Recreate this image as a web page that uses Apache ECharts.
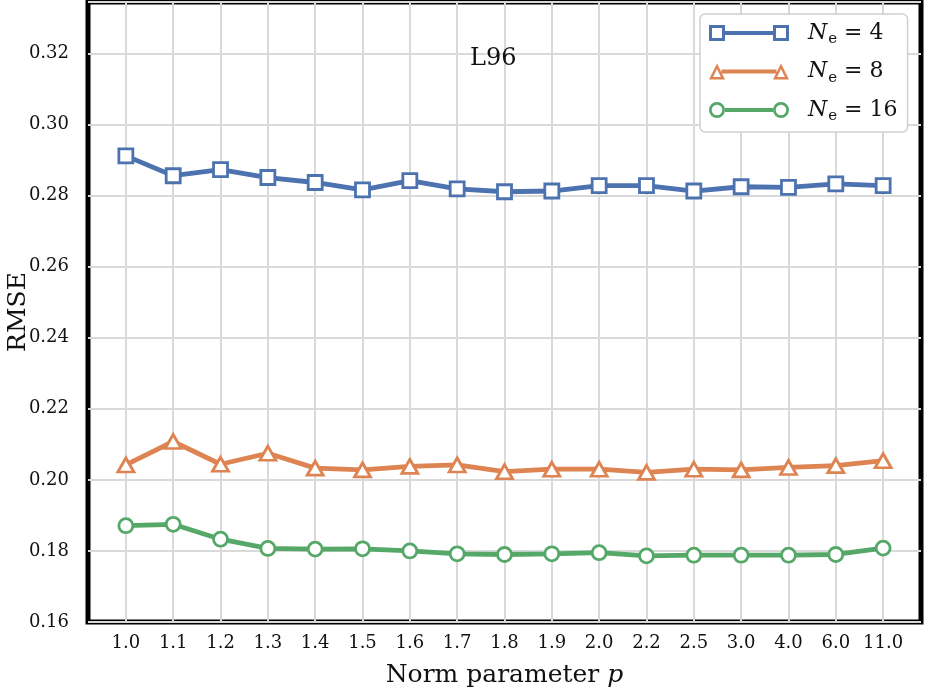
<!DOCTYPE html>
<html>
<head>
<meta charset="utf-8">
<script src="https://cdn.jsdelivr.net/npm/echarts@6/dist/echarts.min.js"></script>
<style>
  html, body { margin: 0; padding: 0; background: #fff; }
  #chart { width: 925px; height: 693px; }
</style>
</head>
<body>
<div id="chart"></div>
<script>
// norm parameter p (plotted at equal spacing)
var pLabels = ['1.0', '1.1', '1.2', '1.3', '1.4', '1.5', '1.6', '1.7', '1.8', '1.9', '2.0', '2.2', '2.5', '3.0', '4.0', '6.0', '11.0'];

// RMSE for each ensemble size
var rmseNe4 = [0.2912, 0.2856, 0.2873, 0.2851, 0.2837, 0.2816, 0.2842, 0.2819, 0.2811, 0.2813, 0.2828, 0.2828, 0.2813, 0.2825, 0.2823, 0.2833, 0.2828];
var rmseNe8 = [0.2042, 0.2108, 0.2044, 0.2075, 0.2033, 0.2028, 0.2038, 0.2042, 0.2023, 0.2030, 0.2030, 0.2021, 0.2030, 0.2028, 0.2035, 0.2040, 0.2054];
var rmseNe16 = [0.1871, 0.1875, 0.1833, 0.1807, 0.1805, 0.1806, 0.1800, 0.1792, 0.1790, 0.1792, 0.1795, 0.1786, 0.1788, 0.1788, 0.1788, 0.1790, 0.1808];

var serifFont = 'DejaVu Serif';
var blue = '#4C72B0', orange = '#DD8452', green = '#55A868';
var idx = pLabels.map(function (_, i) { return i; });

// legend icons: hollow marker - line - hollow marker (like matplotlib)
var iconSquare = 'path://M0 0H16V16H0Z M3 3V13H13V3Z M16 6H64V10H16Z M64 0H80V16H64Z M67 3V13H77V3Z';
var iconTri = 'path://M0 16L8 0L16 16Z M4.1 13.5L11.9 13.5L8 5.6Z M12.5 6H67.5V10H12.5Z M64 16L72 0L80 16Z M68.1 13.5L75.9 13.5L72 5.6Z';
var iconCirc = 'path://M0 8A8 8 0 1 1 16 8A8 8 0 1 1 0 8Z M2.7 8A5.3 5.3 0 1 0 13.3 8A5.3 5.3 0 1 0 2.7 8Z M16 6H64V10H16Z M64 8A8 8 0 1 1 80 8A8 8 0 1 1 64 8Z M66.7 8A5.3 5.3 0 1 0 77.3 8A5.3 5.3 0 1 0 66.7 8Z';

function pairs(vals) {
    return vals.map(function (v, i) { return [i, v]; });
}

function mkSeries(name, vals, color, symbol, size) {
    return {
        name: name,
        type: 'line',
        data: pairs(vals),
        symbol: symbol,
        symbolSize: size,
        showAllSymbol: true,
        lineStyle: { color: color, width: 4.8 },
        itemStyle: { color: '#fff', borderColor: color, borderWidth: 2.8 },
        color: color,
        z: 3
    };
}

var chart = echarts.init(document.getElementById('chart'));

var option = {
    backgroundColor: '#fff',
    animation: false,
    title: {
        text: 'L96',
        left: 465,
        top: 42,
        textStyle: { fontFamily: serifFont, fontSize: 24, fontWeight: 'normal', color: '#111' }
    },
    legend: {
        orient: 'vertical',
        left: 700,
        top: 14,
        padding: [5, 10, 8, 9],
        itemWidth: 80,
        itemHeight: 16,
        itemGap: 10.5,
        backgroundColor: '#fff',
        borderColor: '#d0d0d0',
        borderWidth: 1.5,
        borderRadius: 5,
        data: [
            { name: 'Ne4', icon: iconSquare, itemStyle: { color: blue, borderWidth: 0 } },
            { name: 'Ne8', icon: iconTri, itemStyle: { color: orange, borderWidth: 0 } },
            { name: 'Ne16', icon: iconCirc, itemStyle: { color: green, borderWidth: 0 } }
        ],
        formatter: function (name) {
            var n = name.slice(2);
            return '{i|N}{s|e}{t| = ' + n + '}';
        },
        textStyle: {
            fontFamily: serifFont,
            color: '#111',
            lineHeight: 28,
            rich: {
                i: { fontFamily: serifFont, fontStyle: 'italic', fontSize: 22, lineHeight: 28, color: '#111', padding: [0, 0, 0, 14] },
                s: { fontFamily: serifFont, fontSize: 15, lineHeight: 28, color: '#111', verticalAlign: 'bottom', padding: [9, 0, 0, 1] },
                t: { fontFamily: serifFont, fontSize: 22, lineHeight: 28, color: '#111' }
            }
        }
    },
    grid: {
        left: 88,
        right: 4,
        top: 2,
        bottom: 71,
        outerBoundsMode: 'none',
        containLabel: false,
        show: true,
        borderColor: '#000',
        borderWidth: 5
    },
    xAxis: {
        type: 'value',
        min: -0.8,
        max: 16.8,
        name: 'Norm parameter {it|p}',
        nameLocation: 'middle',
        nameGap: 41,
        nameMoveOverlap: false,
        nameTextStyle: {
            fontFamily: serifFont, fontSize: 25, color: '#111',
            rich: { it: { fontFamily: serifFont, fontStyle: 'italic', fontSize: 25, color: '#111' } }
        },
        axisLine: { show: false },
        axisTick: { show: false, customValues: idx },
        splitLine: { show: true, lineStyle: { color: '#d9d9d9', width: 2 } },
        axisLabel: {
            customValues: idx,
            margin: 12,
            fontFamily: serifFont,
            fontSize: 18,
            color: '#111',
            formatter: function (v) { return pLabels[Math.round(v)]; }
        }
    },
    yAxis: {
        type: 'value',
        min: 0.16,
        max: 0.3345,
        interval: 0.02,
        name: 'RMSE',
        nameLocation: 'middle',
        nameGap: 57,
        nameMoveOverlap: false,
        nameTextStyle: { fontFamily: serifFont, fontSize: 25, color: '#111' },
        axisLine: { show: false },
        axisTick: { show: false },
        splitLine: { show: true, lineStyle: { color: '#d9d9d9', width: 2 } },
        axisLabel: {
            showMaxLabel: false,
            margin: 19,
            fontFamily: serifFont,
            fontSize: 18,
            color: '#111',
            formatter: function (v) { return v.toFixed(2); }
        }
    },
    series: [
        mkSeries('Ne4', rmseNe4, blue, 'rect', 14),
        mkSeries('Ne8', rmseNe8, orange, 'triangle', [16, 14]),
        mkSeries('Ne16', rmseNe16, green, 'circle', 14)
    ]
};

chart.setOption(option);
window.addEventListener('resize', function () { chart.resize(); });
</script>
</body>
</html>
